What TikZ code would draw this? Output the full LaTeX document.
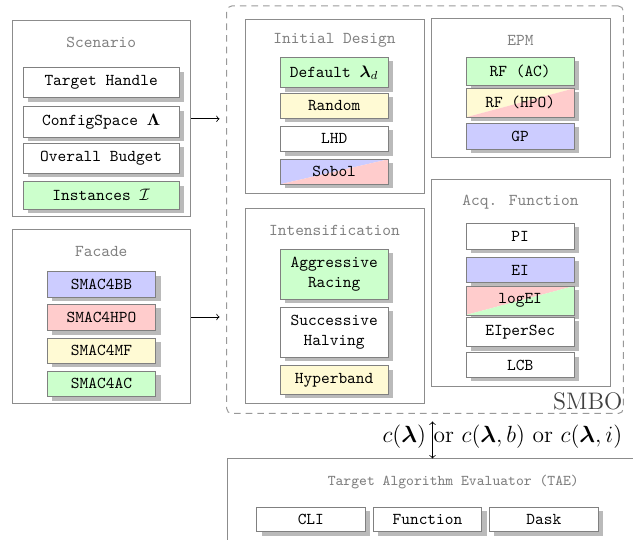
\RequirePackage{fix-cm}
\documentclass[tikz,border=0pt]{standalone}
\usepackage{amsmath,amssymb}
\usetikzlibrary{shadows}
\definecolor{cgreen}{RGB}{204,255,204}
\definecolor{cblue}{RGB}{204,204,255}
\definecolor{cred}{RGB}{255,204,204}
\definecolor{cyellow}{RGB}{255,250,212}
\newcommand\pxl{0.6024pt}
\newcommand\boxat[7]{\node[#6,minimum width={(#4-#2)*\pxl},minimum height={(#5-#3)*\pxl}] (#1) at ({(#2+#4)/2},{(#3+#5)/2}) {#7};}
\begin{document}
\begin{tikzpicture}[x={(0.6024pt,0)},y={(0,-0.6024pt)},
  itembox/.style={draw=black!50,fill=white,font=\ttfamily,inner sep=0pt,align=center,line width=0.5pt,
    drop shadow={shadow xshift=3pt,shadow yshift=-2.5pt,fill=black!27,opacity=1}},
  groupbox/.style={draw=black!45,fill=white,line width=0.6pt,inner sep=0pt},
  grouptitle/.style={text=black!50,font=\ttfamily,inner sep=0pt},
  diagfill/.style 2 args={path picture={
    \fill[#1] (path picture bounding box.south west) -- (path picture bounding box.north east) -- (path picture bounding box.north west) -- cycle;
    \fill[#2] (path picture bounding box.south west) -- (path picture bounding box.north east) -- (path picture bounding box.south east) -- cycle;}},
  smbostyle/.style={draw=black!40,line width=0.6pt,dash pattern=on 4pt off 3pt,rounded corners=3pt,inner sep=0pt},
  conn/.style={line width=0.5pt}
]
\useasboundingbox (0,0) rectangle (633,540);
\clip (0,0) rectangle (633,540);

\boxat{smbo}{226.7}{6}{623.3}{413.5}{smbostyle}{}

% Scenario
\boxat{scen}{12}{20.7}{190.7}{217}{groupbox}{}
\node[grouptitle] (scent) at (101.3,42.3) {Scenario};
\boxat{th}{23.3}{67.7}{179}{97.7}{itembox}{Target Handle}
\boxat{cs}{23.3}{106.7}{179}{137.3}{itembox}{ConfigSpace $\boldsymbol{\Lambda}$}
\boxat{ob}{23.3}{143.3}{179}{173.3}{itembox}{Overall Budget}
\boxat{ins}{23.3}{181.7}{179}{209}{itembox,fill=cgreen}{Instances $\mathcal{I}$}

% Facade
\boxat{fac}{12}{230}{190.7}{404}{groupbox}{}
\node[grouptitle] (fact) at (101.3,251.7) {Facade};
\boxat{bb}{47.3}{271.7}{155.7}{297.3}{itembox,fill=cblue}{SMAC4BB}
\boxat{hpo}{47.3}{304.3}{155.7}{330.7}{itembox,fill=cred}{SMAC4HPO}
\boxat{mf}{47.3}{338.3}{155.7}{363.3}{itembox,fill=cyellow}{SMAC4MF}
\boxat{ac}{47.3}{371}{155.7}{396.7}{itembox,fill=cgreen}{SMAC4AC}

% Initial design
\boxat{ini}{245}{19.5}{424}{193.3}{groupbox}{}
\node[grouptitle] (init) at (334.5,40.7) {Initial Design};
\boxat{def}{280}{57.3}{388.3}{87.7}{itembox,fill=cgreen}{Default $\boldsymbol{\lambda}_d$}
\boxat{rnd}{280}{93.3}{388.3}{118.3}{itembox,fill=cyellow}{Random}
\boxat{lhd}{280}{126}{388.3}{151.7}{itembox}{LHD}
\boxat{sob}{280}{159.3}{388.3}{184.3}{itembox,diagfill={cblue}{cred}}{Sobol}

% EPM
\boxat{epm}{431}{18.3}{610}{157.3}{groupbox}{}
\node[grouptitle] (epmt) at (520.5,40.7) {EPM};
\boxat{rfac}{466}{57.3}{574.3}{85.7}{itembox,fill=cgreen}{RF (AC)}
\boxat{rfhpo}{466}{88.3}{574.3}{117.3}{itembox,diagfill={cyellow}{cred}}{RF (HPO)}
\boxat{gp}{466}{123.3}{574.3}{149.3}{itembox,fill=cblue}{GP}

% Intensification
\boxat{intf}{245}{209}{424}{403.3}{groupbox}{}
\node[grouptitle] (intt) at (334.5,230.7) {Intensification};
\boxat{agg}{280}{249.3}{388.3}{299}{itembox,fill=cgreen}{Aggressive\\Racing}
\boxat{sh}{280}{307.3}{388.3}{357.3}{itembox}{Successive\\Halving}
\boxat{hb}{280}{365.7}{388.3}{394}{itembox,fill=cyellow}{Hyperband}

% Acquisition function
\boxat{acq}{431}{180}{610}{386.7}{groupbox}{}
\node[grouptitle] (acqt) at (520.5,202.3) {Acq. Function};
\boxat{pi}{466}{223.3}{574.3}{249.3}{itembox}{PI}
\boxat{ei}{466}{257.3}{574.3}{282.7}{itembox,fill=cblue}{EI}
\boxat{logei}{466}{286}{574.3}{315}{itembox,diagfill={cred}{cgreen}}{logEI}
\boxat{eips}{466}{317.3}{574.3}{346.7}{itembox}{EIperSec}
\boxat{lcb}{466}{352.7}{574.3}{377.3}{itembox}{LCB}

\node[anchor=base east,font=\Large,inner sep=0pt,text=black!75] (smbol) at (622.7,410) {SMBO};

% TAE
\boxat{tae}{227.7}{459}{679}{600}{groupbox}{}
\node[grouptitle,font=\small\ttfamily] (taet) at (453.3,481.7) {Target Algorithm Evaluator (TAE)};
\boxat{cli}{256.7}{507}{365}{531.5}{itembox}{CLI}
\boxat{fun}{373.3}{507}{481.7}{531.5}{itembox}{Function}
\boxat{dask}{489.3}{507}{598.3}{531.5}{itembox}{Dask}

% cost label and arrow
\node[anchor=base east,font=\fontsize{14.1}{17}\selectfont,inner sep=0pt] (cost) at (622.5,443) {$c(\boldsymbol{\lambda})$ or $c(\boldsymbol{\lambda},b)$ or $c(\boldsymbol{\lambda},i)$};
\coordinate (atop) at (432.5,421.5);
\draw[conn,<->] (atop) -- (atop |- tae.north);

% connectors into SMBO
\draw[conn,->] (scen.east) -- ([xshift=-4pt]scen.east -| smbo.west);
\draw[conn,->] (fac.east) -- ([xshift=-4pt]fac.east -| smbo.west);
\end{tikzpicture}
\end{document}
